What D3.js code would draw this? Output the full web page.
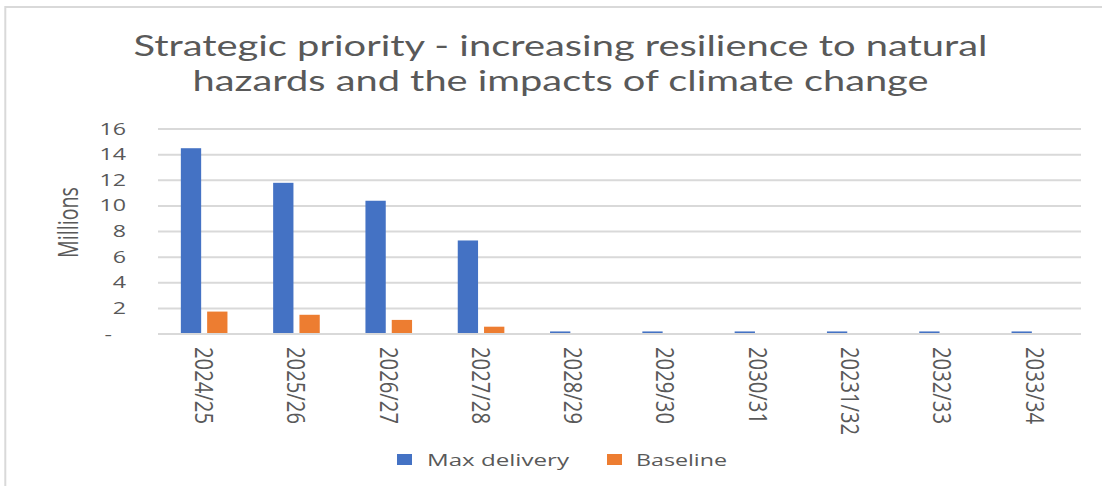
<!DOCTYPE html>
<html>
<head>
<meta charset="utf-8">
<script src="https://cdn.jsdelivr.net/npm/d3@7/dist/d3.min.js"></script>
<style>
  html, body { margin: 0; padding: 0; background: #fff; }
  svg { display: block; }
  text { fill: #595959; }
</style>
</head>
<body>
<svg id="chart" width="1102" height="486"></svg>
<script>
// Funding by financial year (millions)
const categories = ["2024/25", "2025/26", "2026/27", "2027/28", "2028/29",
                    "2029/30", "2030/31", "20231/32", "2032/33", "2033/34"];
const seriesNames = ["Max delivery", "Baseline"];
const maxDelivery = [14.5, 11.8, 10.4, 7.3, 0.2, 0.2, 0.2, 0.2, 0.2, 0.2];
const baseline    = [1.75, 1.5, 1.1, 0.57, 0, 0, 0, 0, 0, 0];
const yTicks      = [0, 2, 4, 6, 8, 10, 12, 14, 16];
const yTickLabels = ["-", "2", "4", "6", "8", "10", "12", "14", "16"];
const titleLines  = ["Strategic priority - increasing resilience to natural",
                     "hazards and the impacts of climate change"];
const yAxisTitle  = "Millions";

const colors = { "Max delivery": "#4472C4", "Baseline": "#ED7D31" };
const SX = 1.5;           // horizontal text stretch
const FONT = "'Open Sans', 'Noto Sans', sans-serif";

const svg = d3.select("#chart");

// outer chart frame
svg.append("rect")
  .attr("x", 5.3).attr("y", 7).attr("width", 1300).attr("height", 600)
  .attr("fill", "none").attr("stroke", "#d9d9d9").attr("stroke-width", 2);

const plot = { left: 158, right: 1081, top: 129, bottom: 334 };

const x0 = d3.scaleBand()
  .domain(categories)
  .range([plot.left, plot.right])
  .paddingInner(0.495)
  .paddingOuter(0.2475);

const x1 = d3.scaleBand()
  .domain(seriesNames)
  .range([0, x0.bandwidth()])
  .paddingInner(0.228);

const y = d3.scaleLinear().domain([0, 16]).range([plot.bottom, plot.top]);

// gridlines
svg.append("g")
  .selectAll("line")
  .data(yTicks.filter(d => d > 0))
  .join("line")
  .attr("x1", plot.left).attr("x2", plot.right)
  .attr("y1", d => y(d)).attr("y2", d => y(d))
  .attr("stroke", "#d9d9d9").attr("stroke-width", 2);

// bars
const rows = categories.map((c, i) => ({
  cat: c,
  values: [
    { key: "Max delivery", value: maxDelivery[i] },
    { key: "Baseline", value: baseline[i] }
  ]
}));

svg.append("g")
  .selectAll("g")
  .data(rows)
  .join("g")
  .attr("transform", d => `translate(${x0(d.cat)},0)`)
  .selectAll("rect")
  .data(d => d.values.filter(v => v.value > 0))
  .join("rect")
  .attr("x", d => x1(d.key))
  .attr("width", x1.bandwidth())
  .attr("y", d => y(d.value))
  .attr("height", d => y(0) - y(d.value))
  .attr("fill", d => colors[d.key]);

// category axis line
svg.append("line")
  .attr("x1", plot.left).attr("x2", plot.right)
  .attr("y1", y(0)).attr("y2", y(0))
  .attr("stroke", "#d9d9d9").attr("stroke-width", 2);

// y tick labels
svg.append("g")
  .selectAll("text")
  .data(yTicks)
  .join("text")
  .attr("transform", (d, i) => `translate(${d === 0 ? 112 : 126},${y(d)}) scale(${SX},1)`)
  .attr("dy", "0.36em")
  .attr("text-anchor", "end")
  .attr("font-family", FONT)
  .attr("font-size", 15.5)
  .text((d, i) => yTickLabels[i]);

// category labels (rotated)
svg.append("g")
  .selectAll("text")
  .data(categories)
  .join("text")
  .attr("transform", d => `translate(${x0(d) + x0.bandwidth() / 2},347) scale(${SX},1) rotate(90)`)
  .attr("dy", "0.36em")
  .attr("text-anchor", "start")
  .attr("font-family", FONT)
  .attr("font-size", 17)
  .attr("textLength", d => d.length * 11)
  .attr("lengthAdjust", "spacingAndGlyphs")
  .text(d => d);

// y axis title
svg.append("text")
  .attr("transform", `translate(68,222.5) scale(${SX},1) rotate(-90)`)
  .attr("dy", "0.36em")
  .attr("text-anchor", "middle")
  .attr("font-family", FONT)
  .attr("font-size", 18)
  .attr("textLength", 71)
  .attr("lengthAdjust", "spacingAndGlyphs")
  .text(yAxisTitle);

// chart title
const titleSpecs = [
  { baseline: 56, width: 854 },
  { baseline: 91, width: 736 }
];
svg.append("g")
  .selectAll("text")
  .data(titleLines)
  .join("text")
  .attr("x", 560.5)
  .attr("y", (d, i) => titleSpecs[i].baseline)
  .attr("text-anchor", "middle")
  .attr("font-family", "Lato, 'Open Sans', sans-serif")
  .attr("font-size", 28.5)
  .attr("textLength", (d, i) => titleSpecs[i].width)
  .attr("lengthAdjust", "spacingAndGlyphs")
  .text(d => d);

// legend
const legendItems = [
  { key: "Max delivery", sx: 397, tx: 427, tw: 142 },
  { key: "Baseline", sx: 607, tx: 636, tw: 91 }
];
const lg = svg.append("g");
lg.selectAll("rect")
  .data(legendItems)
  .join("rect")
  .attr("x", d => d.sx).attr("y", 454)
  .attr("width", 15).attr("height", 11)
  .attr("fill", d => colors[d.key]);
lg.selectAll("text")
  .data(legendItems)
  .join("text")
  .attr("transform", d => `translate(${d.tx},466) scale(${SX},1)`)
  .attr("font-family", FONT)
  .attr("font-size", 17)
  .attr("textLength", d => d.tw / SX)
  .attr("lengthAdjust", "spacingAndGlyphs")
  .text(d => d.key);
</script>
</body>
</html>
